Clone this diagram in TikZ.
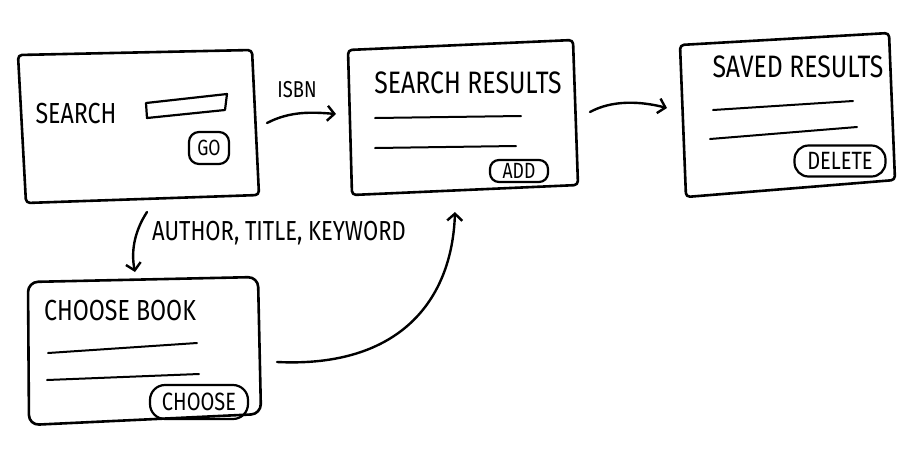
\documentclass[tikz,border=0pt]{standalone}
\usepackage{fontspec}
\setmainfont{Fira Sans}[FakeStretch=0.8]
\usetikzlibrary{arrows.meta}
\newcommand\hs[1]{\fontsize{#1}{#1}\selectfont}
\tikzset{
  screen/.style={line width=2.6pt, line join=round, rounded corners=4pt},
  row/.style={line width=2pt, line cap=round},
  btn/.style={draw, line width=2.2pt, rounded corners=9pt, inner sep=1pt},
  lbl/.style={inner sep=0pt, anchor=center},
  flow/.style={line width=2.4pt, line cap=round,
    -{Straight Barb[length=7pt,width=15pt,line width=2.4pt]}}
}
\begin{document}
\begin{tikzpicture}[x=1pt,y=-1pt]
\useasboundingbox (0,0) rectangle (913,459);

% search screen
\draw[screen] (18,55) -- (252,50) -- (259,195) -- (26,203) -- cycle;
\node[lbl] (searchlbl) at (76,114) {\hs{29}SEARCH};
\draw[line width=2.2pt, line join=round] (146,103) -- (227,94) -- (225,110) -- (147,118) -- cycle;
\node[btn, rounded corners=10pt, minimum height=32pt, minimum width=40pt] (go) at (209,148) {\hs{22}GO};
\coordinate (searchE) at (267,123);
\coordinate (searchS) at (147,212);

% search results screen
\draw[screen] (348,50) -- (573,40) -- (578,185) -- (352,195) -- cycle;
\node[lbl] (srtitle) at (468,83) {\hs{31}SEARCH RESULTS};
\draw[row] (375,118) -- (521,116);
\draw[row] (375,148) -- (516,146);
\node[btn, minimum height=22pt, minimum width=58pt] (add) at (519,171) {\hs{22}ADD};
\coordinate (srW) at (336,114);
\coordinate (srE) at (590,112);
\coordinate (srS) at (455,212);

% saved results screen
\draw[screen] (680,45) -- (889,33) -- (895,180) -- (686,197) -- cycle;
\node[lbl] (savedtitle) at (798,67) {\hs{31}SAVED RESULTS};
\draw[row] (713,110) -- (853,101);
\draw[row] (710,139) -- (857,127);
\node[btn, minimum height=31pt, minimum width=91pt, rounded corners=14pt] (delete) at (840,161) {\hs{25}DELETE};
\coordinate (savedW) at (667,108);

% choose book screen
\draw[screen, rounded corners=10pt] (28,282) -- (258,277) -- (261,414) -- (29,425) -- cycle;
\node[lbl] (cbtitle) at (120,311) {\hs{29}CHOOSE BOOK};
\draw[row] (48,353) -- (197,343);
\draw[row] (47,380) -- (199,374);
\node[btn, minimum height=34pt, minimum width=98pt, rounded corners=15pt] (choose) at (199,402) {\hs{25}CHOOSE};
\coordinate (cbN) at (135,272);
\coordinate (cbE) at (277,362);

% flows between screens
\draw[flow] (searchE) .. controls (290,111) and (312,112) .. (srW);
\node[lbl] (isbn) at (297,90) {\hs{23}ISBN};
\draw[flow] (srE) .. controls (612,100) and (640,101) .. (savedW);
\draw[flow] (searchS) .. controls (134,232) and (131,252) .. (cbN);
\node[lbl, anchor=west] (akw) at (152,233) {\hs{27.5}AUTHOR, TITLE, KEYWORD};
\draw[flow] (cbE) .. controls (400,368) and (452,300) .. (srS);
\end{tikzpicture}
\end{document}
